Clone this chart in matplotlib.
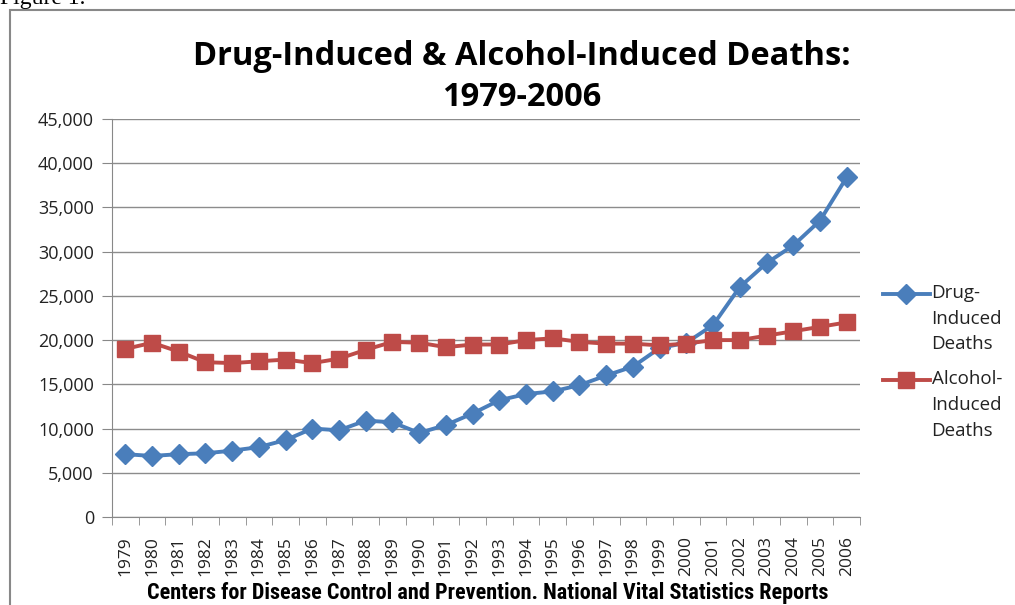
import numpy as np
import matplotlib
matplotlib.use("Agg")
import matplotlib.pyplot as plt
from matplotlib.patches import Rectangle
from matplotlib.ticker import FuncFormatter, FixedLocator
from matplotlib.legend_handler import HandlerLine2D

years = list(range(1979, 2007))
drug_deaths = [7100, 6900, 7100, 7200, 7500, 7900, 8700, 10000, 9800, 10900,
               10700, 9500, 10400, 11700, 13200, 13900, 14200, 14900, 16000, 17000,
               19100, 19700, 21700, 26000, 28700, 30700, 33500, 38400]
alcohol_deaths = [19000, 19700, 18700, 17500, 17400, 17600, 17800, 17400, 17900, 18900,
                  19800, 19700, 19200, 19500, 19500, 20000, 20200, 19800, 19600, 19600,
                  19400, 19600, 20000, 20000, 20500, 21000, 21500, 22000]

title = "Drug-Induced & Alcohol-Induced Deaths:\n1979-2006"
source = "Centers for Disease Control and Prevention. National Vital Statistics Reports"


class FirstLineHandler(HandlerLine2D):
    # put the legend line level with the first line of a 3-line label
    def create_artists(self, legend, orig_handle, xdescent, ydescent, width,
                       height, fontsize, trans):
        arts = super().create_artists(legend, orig_handle, xdescent, ydescent,
                                      width, height, fontsize, trans)
        for a in arts:
            a.set_ydata(np.asarray(a.get_ydata()) + 1.35 * fontsize)
        return arts


plt.rcParams['font.family'] = ['Open Sans', 'DejaVu Sans']

fig = plt.figure(figsize=(10.15, 6.05), dpi=100)
ax = fig.add_axes([0.1103, 0.1455, 0.7370, 0.6578])

x = np.arange(len(years))
ax.plot(x, drug_deaths, color='#4a7ebb', lw=2.8, marker='D', ms=10.5,
        label='Drug-\nInduced\nDeaths')
ax.plot(x, alcohol_deaths, color='#be4b48', lw=2.8, marker='s', ms=11.5,
        label='Alcohol-\nInduced\nDeaths')

ax.set_xlim(-0.5, len(years) - 0.5)
ax.set_ylim(0, 45000)
ax.set_yticks(np.arange(0, 45001, 5000))
ax.yaxis.set_major_formatter(FuncFormatter(lambda v, p: f"{int(v):,}"))
ax.set_xticks(x)
ax.set_xticklabels([str(y) for y in years], rotation=90)
ax.xaxis.set_minor_locator(FixedLocator(np.arange(-0.5, len(years), 1)))
ax.tick_params(axis='x', which='major', length=0, labelsize=12.5, pad=14, colors='#222222')
ax.tick_params(axis='x', which='minor', length=6, color='#888888', direction='out')
ax.tick_params(axis='y', length=7, color='#888888', labelsize=13, pad=6,
               labelcolor='#222222')
ax.grid(axis='y', color='#8c8c8c', lw=1)
ax.set_axisbelow(True)
for s in ['top', 'right']:
    ax.spines[s].set_visible(False)
for s in ['left', 'bottom']:
    ax.spines[s].set_color('#888888')

fig.text(0.514, 0.873, title, ha='center', va='center', fontsize=23.5,
         fontweight='bold', linespacing=1.3)

leg = ax.legend(loc='center left', bbox_to_anchor=(1.008, 0.39), frameon=False,
                fontsize=13.5, handlelength=2.5, labelspacing=0.9, handletextpad=0.1,
                handler_map={plt.Line2D: FirstLineHandler()})
for t in leg.get_texts():
    t.set_multialignment('left')
    t.set_linespacing(1.55)
    t.set_color('#222222')

fig.text(0.48, 0.01, source, ha='center', va='baseline', fontsize=16,
         fontweight='bold', family=['Roboto Condensed', 'Roboto', 'DejaVu Sans'])

# chart frame and caption above it
fig.patches.append(Rectangle((10 / 1015, -0.1), 1.2, (595 / 605) + 0.1,
                             transform=fig.transFigure, fill=False,
                             ec='#888888', lw=1.5))
fig.text(0.0, 0.985, "Figure 1.", ha='left', va='bottom', fontsize=17,
         family=['Liberation Serif', 'DejaVu Serif'])

fig.savefig("out.png", dpi=100)
